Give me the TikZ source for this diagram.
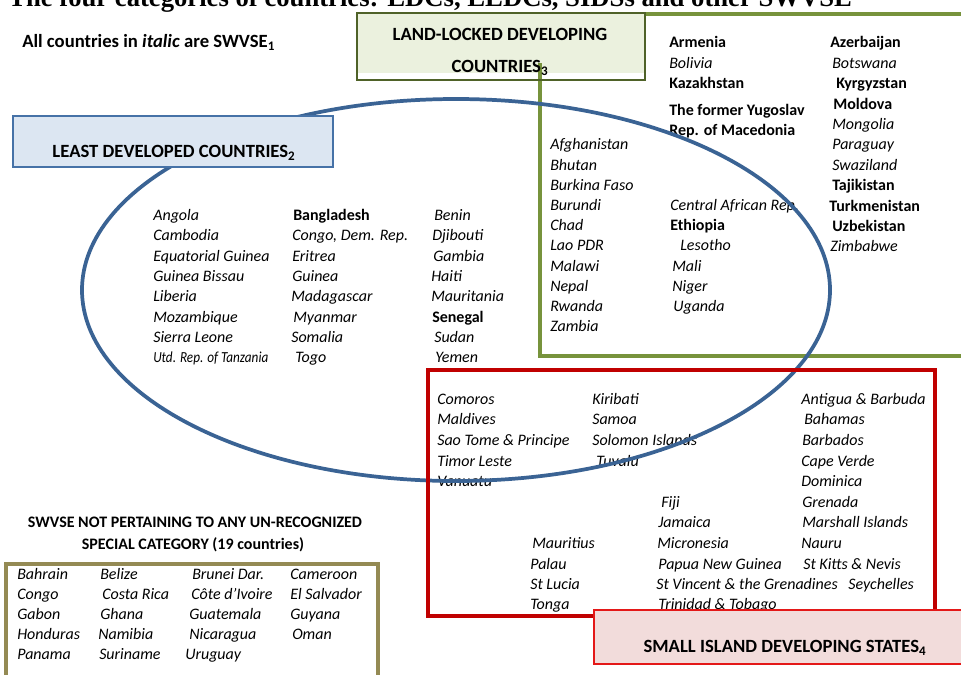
\documentclass[tikz,border=0pt]{standalone}
\usepackage{fontspec}
\setmainfont{Carlito}
\newfontfamily\titlefont{Liberation Serif}
\definecolor{ldcblue}{RGB}{58,99,148}
\definecolor{ldcfill}{RGB}{220,230,242}
\definecolor{ldcedge}{RGB}{70,114,167}
\definecolor{llgreen}{RGB}{119,147,60}
\definecolor{llfill}{RGB}{235,241,222}
\definecolor{lledge}{RGB}{79,98,40}
\definecolor{sidsred}{RGB}{192,0,0}
\definecolor{sidsfill}{RGB}{242,220,219}
\definecolor{sidsedge}{RGB}{228,24,24}
\definecolor{swvsecol}{RGB}{148,138,84}
\tikzset{
  cty/.style={anchor=base west, inner sep=0pt, yshift=-3.6pt, font=\fontsize{12}{14}\selectfont\itshape},
  ctyb/.style={anchor=base west, inner sep=0pt, yshift=-3.6pt, font=\fontsize{12}{14}\selectfont\bfseries},
  lbl/.style={anchor=base, inner sep=0pt, yshift=-4.2pt, font=\fontsize{14}{16}\selectfont\bfseries},
  lblsm/.style={anchor=base, inner sep=0pt, yshift=-3.6pt, font=\fontsize{12}{14}\selectfont\bfseries},
}
\begin{document}
\begin{tikzpicture}[x=0.75pt,y=-0.75pt]
\useasboundingbox (0,0) rectangle (961,675);

% title (cut off at top, as in the reference)
\node[anchor=base west, inner sep=0pt, font=\titlefont\fontsize{20}{24}\selectfont\bfseries] (title) at (8,6) {The four categories of countries: LDCs, LLDCs, SIDSs and other SWVSE};

\node[anchor=base west, inner sep=0pt, yshift=-4.2pt, font=\fontsize{14}{16}\selectfont\bfseries] (note) at (22,42) {All countries in \textit{italic} are SWVSE\textsubscript{1}};

% LLDC region
\fill[llfill] (357,13) rectangle (645,73);
\draw[llgreen, line width=3pt] (645,14) -- (975,14);
\draw[llgreen, line width=3pt] (540,63) -- (540,356) -- (975,356);
\draw[lledge, line width=2.2pt] (357,13) rectangle (645,80);
\node[lbl] (lldc1) at (500,35) {LAND-LOCKED DEVELOPING};
\node[lbl] (lldc2) at (500,67) {COUNTRIES\textsubscript{3}};

% LLDC only
\node[ctyb] (armenia) at (669,43) {Armenia};
\node[cty] (bolivia) at (669,63.4) {Bolivia};
\node[ctyb] (kazakh) at (669,83.8) {Kazakhstan};
\node[ctyb] (fyrom1) at (669,111) {The former Yugoslav};
\node[ctyb] (fyrom2) at (669,131) {Rep. of Macedonia};
\node[ctyb] (azer) at (830,43) {Azerbaijan};
\node[cty] (botswana) at (832,63.4) {Botswana};
\node[ctyb] (kyrgyz) at (836,83.8) {Kyrgyzstan};
\node[ctyb] (moldova) at (833,104.2) {Moldova};
\node[cty] (mongolia) at (832,124.6) {Mongolia};
\node[cty] (paraguay) at (832,145) {Paraguay};
\node[cty] (swaziland) at (832,165.4) {Swaziland};
\node[ctyb] (tajik) at (832,185.8) {Tajikistan};
\node[ctyb] (turkmen) at (829,206.2) {Turkmenistan};
\node[ctyb] (uzbek) at (832,226.6) {Uzbekistan};
\node[cty] (zimbabwe) at (830,247) {Zimbabwe};

% LDC and LLDC
\node[cty] (afgh) at (550,145) {Afghanistan};
\node[cty] (bhutan) at (550,165.2) {Bhutan};
\node[cty] (burkina) at (550,185.4) {Burkina Faso};
\node[cty] (burundi) at (550,205.6) {Burundi};
\node[cty] (chad) at (550,225.8) {Chad};
\node[cty] (lao) at (550,246) {Lao PDR};
\node[cty] (malawi) at (550,266.2) {Malawi};
\node[cty] (nepal) at (550,286.4) {Nepal};
\node[cty] (rwanda) at (550,306.6) {Rwanda};
\node[cty] (zambia) at (550,326.8) {Zambia};
\node[cty] (car) at (670,205.6) {Central African Rep.};
\node[ctyb] (ethiopia) at (670,225.8) {Ethiopia};
\node[cty] (lesotho) at (680,246) {Lesotho};
\node[cty] (mali) at (672,266.2) {Mali};
\node[cty] (niger) at (672,286.4) {Niger};
\node[cty] (uganda) at (673,306.6) {Uganda};

% LDC only
\node[cty] (angola) at (153,215.7) {Angola};
\node[cty] (cambodia) at (153,236) {Cambodia};
\node[cty] (eqguinea) at (153,256.3) {Equatorial Guinea};
\node[cty] (gbissau) at (153,276.6) {Guinea Bissau};
\node[cty] (liberia) at (153,296.9) {Liberia};
\node[cty] (mozamb) at (153,317.2) {Mozambique};
\node[cty] (sierra) at (153,337.5) {Sierra Leone};
\node[cty] (tanzania) at (153,357.8) {\fontsize{11.5}{13}\selectfont\scalebox{0.86}[1]{Utd. Rep. of Tanzania}};
\node[ctyb] (bangla) at (293,215.7) {Bangladesh};
\node[cty] (congodr) at (292,236) {Congo, Dem. Rep.};
\node[cty] (eritrea) at (292,256.3) {Eritrea};
\node[cty] (guinea) at (292,276.6) {Guinea};
\node[cty] (madag) at (291,296.9) {Madagascar};
\node[cty] (myanmar) at (293,317.2) {Myanmar};
\node[cty] (somalia) at (291,337.5) {Somalia};
\node[cty] (togo) at (295,357.8) {Togo};
\node[cty] (benin) at (434,215.7) {Benin};
\node[cty] (djibouti) at (432,236) {Djibouti};
\node[cty] (gambia) at (433,256.3) {Gambia};
\node[cty] (haiti) at (431,276.6) {Haiti};
\node[cty] (mauritania) at (431,296.9) {Mauritania};
\node[ctyb] (senegal) at (432,317.2) {Senegal};
\node[cty] (sudan) at (434,337.5) {Sudan};
\node[cty] (yemen) at (435,357.8) {Yemen};

% SIDS and LDC
\node[cty] (comoros) at (437,399.5) {Comoros};
\node[cty] (maldives) at (437,420.1) {Maldives};
\node[cty] (saotome) at (437,440.7) {Sao Tome \& Principe};
\node[cty] (timor) at (437,461.3) {Timor Leste};
\node[cty] (vanuatu) at (437,481.9) {Vanuatu};
\node[cty] (kiribati) at (592,399.5) {Kiribati};
\node[cty] (samoa) at (592,420.1) {Samoa};
\node[cty] (solomon) at (592,440.7) {Solomon Islands};
\node[cty] (tuvalu) at (596,461.3) {Tuvalu};

% SIDS only
\node[cty] (antigua) at (801,399.5) {Antigua \& Barbuda};
\node[cty] (bahamas) at (804,420.1) {Bahamas};
\node[cty] (barbados) at (802,440.7) {Barbados};
\node[cty] (capeverde) at (801,461.3) {Cape Verde};
\node[cty] (dominica) at (801,481.9) {Dominica};
\node[cty] (grenada) at (802,502.5) {Grenada};
\node[cty] (marshall) at (802,523.1) {Marshall Islands};
\node[cty] (nauru) at (801,543.7) {Nauru};
\node[cty] (stkitts) at (803,564.3) {St Kitts \& Nevis};
\node[cty] (seychelles) at (848,584.9) {Seychelles};
\node[cty] (fiji) at (661,502.5) {Fiji};
\node[cty] (jamaica) at (658,523.1) {Jamaica};
\node[cty] (micronesia) at (657,543.7) {Micronesia};
\node[cty] (png) at (658,564.3) {Papua New Guinea};
\node[cty] (stvincent) at (656,584.9) {St Vincent \& the Grenadines};
\node[cty] (trinidad) at (658,605) {Trinidad \& Tobago};
\node[cty] (mauritius) at (532,543.7) {Mauritius};
\node[cty] (palau) at (530,564.3) {Palau};
\node[cty] (stlucia) at (530,584.9) {St Lucia};
\node[cty] (tonga) at (530,605) {Tonga};

% LDC ellipse
\draw[ldcblue, line width=2.8pt] (456,290) ellipse [x radius=374, y radius=191];

% SIDS rectangle
\draw[sidsred, line width=3pt] (427.5,369.5) rectangle (935,616);

% LDC label
\draw[ldcedge, fill=ldcfill, line width=1.8pt] (13,116) rectangle (333,167);
\node[lbl] (ldclbl) at (174,152) {LEAST DEVELOPED COUNTRIES\textsubscript{2}};

% SIDS label
\draw[sidsedge, fill=sidsfill, line width=1.8pt] (594,610) rectangle (975,664);
\node[lbl] (sidslbl) at (785,647) {SMALL ISLAND DEVELOPING STATES\textsubscript{4}};

% SWVSE
\node[lblsm] (sw1) at (195,523) {SWVSE NOT PERTAINING TO ANY UN-RECOGNIZED};
\node[lblsm] (sw2) at (193,545) {SPECIAL CATEGORY (19 countries)};
\draw[swvsecol, line width=3pt] (5.5,685) -- (5.5,564) -- (378,564) -- (378,685);
\node[cty] (bahrain) at (17,575) {Bahrain};
\node[cty] (congo) at (17,594.5) {Congo};
\node[cty] (gabon) at (17,615) {Gabon};
\node[cty] (honduras) at (17,635) {Honduras};
\node[cty] (panama) at (17,655) {Panama};
\node[cty] (belize) at (100,575) {Belize};
\node[cty] (costarica) at (102,594.5) {Costa Rica};
\node[cty] (ghana) at (100,615) {Ghana};
\node[cty] (namibia) at (98,635) {Namibia};
\node[cty] (suriname) at (99,655) {Suriname};
\node[cty] (brunei) at (192,575) {Brunei Dar.};
\node[cty] (cotedivoire) at (191,594.5) {Côte d'Ivoire};
\node[cty] (guatemala) at (189,615) {Guatemala};
\node[cty] (nicaragua) at (189,635) {Nicaragua};
\node[cty] (uruguay) at (185,655) {Uruguay};
\node[cty] (cameroon) at (290,575) {Cameroon};
\node[cty] (elsalvador) at (290,594.5) {El Salvador};
\node[cty] (guyana) at (290,615) {Guyana};
\node[cty] (oman) at (292,635) {Oman};
\end{tikzpicture}
\end{document}
